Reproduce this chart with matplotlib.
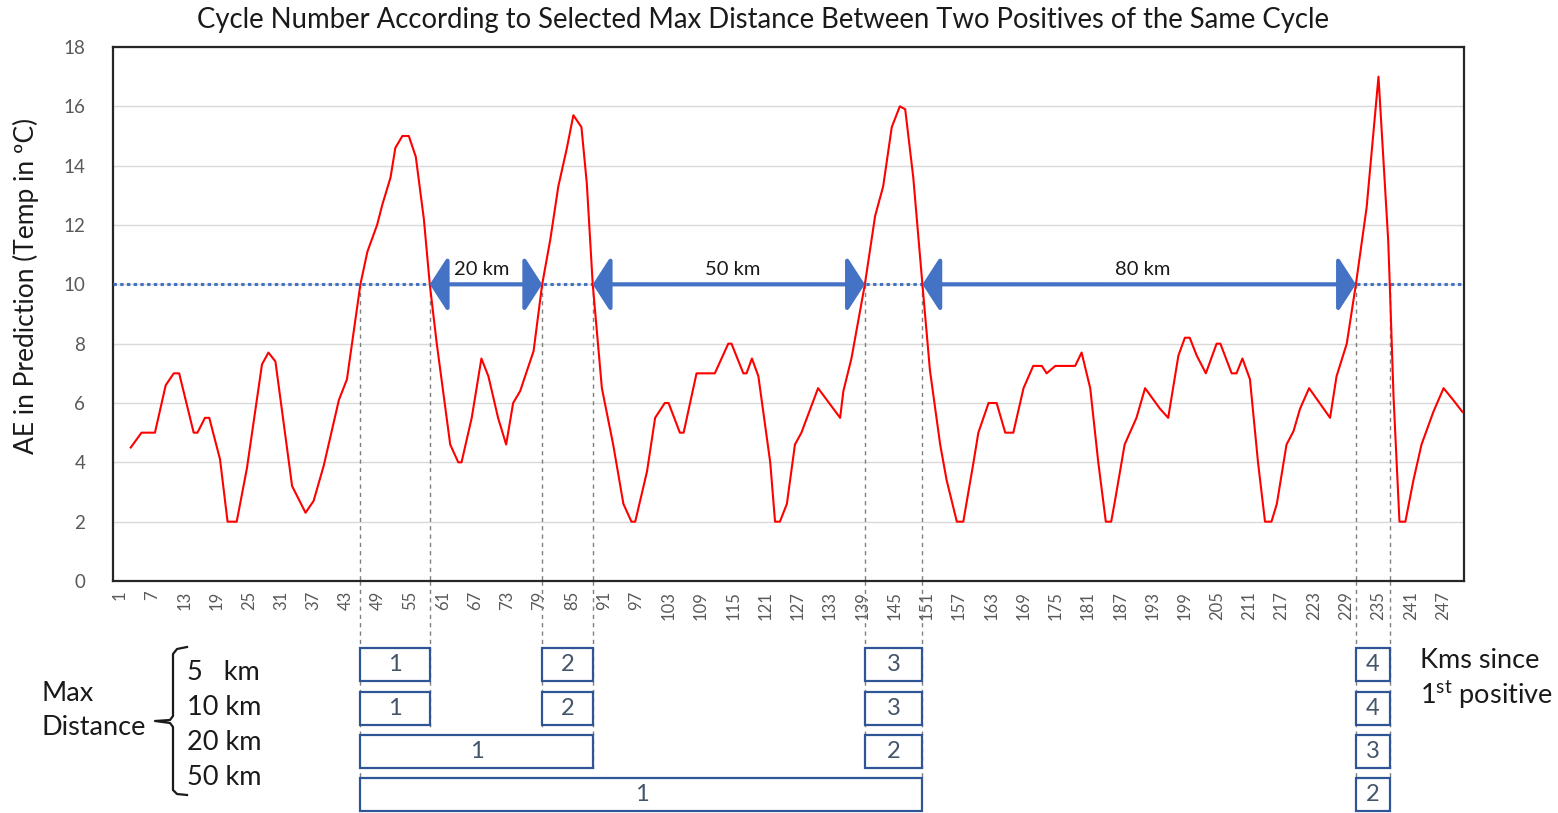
import matplotlib.pyplot as plt
from matplotlib.patches import Rectangle
from matplotlib.transforms import blended_transform_factory

plt.rcParams['font.family'] = ['Lato', 'DejaVu Sans']
plt.rcParams['mathtext.fontset'] = 'custom'
plt.rcParams['mathtext.rm'] = 'Lato'

# line vertices: km since start, AE value
km = [3, 5, 7.5, 9.5, 11, 12, 14.7, 15.4, 16.8, 17.6, 19.6, 21, 22.7, 24.6, 27.4, 28.6, 29.9,
      33, 35.5, 37, 38.9, 41.7, 43.2, 45.7, 47, 48.8, 49.8, 51.3, 52.2, 53.5, 54.7, 56, 57.5, 58.6,
      59.9, 62.4, 63.9, 64.5, 66.4, 68.2, 69.5, 71.3, 72.8, 74.1, 75.4, 77.9, 79.5, 81, 82.5,
      84.1, 85.3, 86.8, 87.8, 88.9, 90.6, 92.7, 94.6, 96.1, 96.8, 99, 100.5, 102.3, 103, 105.1,
      105.8, 108.2, 111.6, 114.1, 114.7, 116.9, 117.5, 118.5, 119.7, 121.9, 122.8, 123.7,
      125, 126.5, 127.7, 130.8, 134.9, 135.5, 137, 139.5, 141.4, 142.9, 144.5, 146, 147, 148.5,
      150.2, 151.6, 153.5, 154.7, 156.6, 157.8, 159.7, 160.6, 162.5, 164, 165.6, 167.1, 169,
      170.8, 172.4, 173.3, 174.9, 178.6, 179.8, 181.4, 182.9,
      184.3, 185.3, 186, 187.8, 190, 191.6, 194.4, 195.9, 197.8, 199, 199.9, 201.2, 202.9,
      204.9, 205.6, 207.7, 208.6, 209.7, 211.1, 212.6, 213.9, 215.1, 216.1, 217.9, 219.2,
      220.4, 222.1, 226, 227.2, 229.1, 230.8, 232.8, 235, 236.8, 237.1, 237.8, 238.9, 240,
      241.5, 243, 245.2, 247.1, 248.9, 250.6]
ae = [4.5, 5.0, 5.0, 6.6, 7.0, 7.0, 5.0, 5.0, 5.5, 5.5, 4.1, 2.0, 2.0, 3.8, 7.3, 7.7, 7.4,
      3.2, 2.3, 2.7, 3.9, 6.1, 6.8, 10, 11.1, 12.0, 12.7, 13.6, 14.6, 15.0, 15.0, 14.3, 12.2, 10,
      8.0, 4.6, 4.0, 4.0, 5.5, 7.5, 6.9, 5.5, 4.6, 6.0, 6.4, 7.75, 10, 11.5, 13.3,
      14.6, 15.7, 15.3, 13.4, 10, 6.5, 4.6, 2.6, 2.0, 2.0, 3.7, 5.5, 6.0, 6.0, 5.0,
      5.0, 7.0, 7.0, 8.0, 8.0, 7.0, 7.0, 7.5, 6.9, 4.0, 2.0, 2.0,
      2.6, 4.6, 5.0, 6.5, 5.5, 6.4, 7.5, 10, 12.3, 13.3, 15.3, 16.0, 15.9, 13.6,
      10, 7.1, 4.6, 3.4, 2.0, 2.0, 4.0, 5.0, 6.0, 6.0, 5.0, 5.0, 6.5,
      7.25, 7.25, 7.0, 7.25, 7.25, 7.7, 6.5, 4.0,
      2.0, 2.0, 2.7, 4.6, 5.5, 6.5, 5.8, 5.5, 7.6, 8.2, 8.2, 7.6, 7.0,
      8.0, 8.0, 7.0, 7.0, 7.5, 6.8, 4.0, 2.0, 2.0, 2.6, 4.6, 5.05,
      5.8, 6.5, 5.5, 6.9, 8.0, 10, 12.6, 17.0, 11.5, 10, 6.2, 2.0, 2.0,
      3.4, 4.6, 5.7, 6.5, 6.1, 5.7]

threshold = 10
crossings = [45.7, 58.6, 79.5, 88.9, 139.5, 150.2, 230.8, 237.1]
gaps = [(58.6, 79.5, '20 km', 68.2), (88.9, 139.5, '50 km', 115.0), (150.2, 230.8, '80 km', 191.2)]
tick_km = list(range(1, 250, 6))

row_labels = ['5   km', '10 km', '20 km', '50 km']
cycles_5 = [(45.7, 58.6, 1), (79.5, 88.9, 2), (139.5, 150.2, 3), (230.8, 237.1, 4)]
cycles_10 = [(45.7, 58.6, 1), (79.5, 88.9, 2), (139.5, 150.2, 3), (230.8, 237.1, 4)]
cycles_20 = [(45.7, 88.9, 1), (139.5, 150.2, 2), (230.8, 237.1, 3)]
cycles_50 = [(45.7, 150.2, 1), (230.8, 237.1, 2)]
rows = [cycles_5, cycles_10, cycles_20, cycles_50]

W, H = 1558, 813
def fy(py):
    return 1 - py / H
def fx(px):
    return px / W

txt = '#1a1a1a'
fig = plt.figure(figsize=(W / 100, H / 100), dpi=100)
ax = fig.add_axes([fx(113), fy(581), fx(1464) - fx(113), fy(47) - fy(581)])

ax.plot(km, ae, color='#FF0000', lw=1.5, zorder=4)
ax.axhline(threshold, color='#4472C4', lw=2.2, ls=(0, (1.1, 1.1)), zorder=3)

for x0, x1, lab, xm in gaps:
    ax.annotate('', xy=(x1, threshold), xytext=(x0, threshold),
                arrowprops=dict(arrowstyle='<|-|>,head_length=0.55,head_width=0.85',
                                mutation_scale=20, lw=3, color='#4472C4',
                                shrinkA=0, shrinkB=0), zorder=5)
    ax.text(xm, threshold + 0.2, lab, ha='center', va='bottom', fontsize=14.5, color=txt)

ax.set_xlim(-0.3, 250.9)
ax.set_ylim(0, 18)
ax.set_yticks(range(0, 19, 2))
ax.set_xticks(tick_km)
ax.set_xticklabels([str(t) for t in tick_km], rotation=90)
ax.tick_params(axis='y', length=0, pad=20, labelsize=13.5, labelcolor='#595959')
ax.tick_params(axis='x', length=0, pad=7, labelsize=12, labelcolor='#595959')
ax.grid(axis='y', color='#D9D9D9', lw=1)
ax.set_axisbelow(True)
for s in ax.spines.values():
    s.set_color('#262626')
    s.set_linewidth(1.6)

ax.set_ylabel('AE in Prediction (Temp in ºC)', fontsize=19, color=txt)
ax.yaxis.set_label_coords(-0.055, 0.552)
fig.text(fx(763), fy(20), 'Cycle Number According to Selected Max Distance Between Two Positives of the Same Cycle',
         ha='center', va='center', fontsize=19.8, color=txt)

blend = blended_transform_factory(ax.transData, fig.transFigure)

# dashed guides from the crossings down to the cycle boxes
guide_bottom = [778, 728, 728, 770, 770, 778, 778, 778]
for x, pb in zip(crossings, guide_bottom):
    ax.plot([x, x], [threshold, 0], color='#7F7F7F', lw=1, ls=(0, (3, 3)), zorder=2)
    ax.plot([x, x], [fy(581), fy(pb)], transform=blend, color='#7F7F7F', lw=1,
            ls=(0, (3, 3)), clip_on=False)

row_top = [648, 692, 735, 778]
row_h = 33
for cyc, top in zip(rows, row_top):
    for x0, x1, n in cyc:
        ax.add_patch(Rectangle((x0, fy(top + row_h)), x1 - x0, row_h / H, transform=blend,
                               fill=True, facecolor='white', edgecolor='#2F5597', lw=1.6,
                               clip_on=False, zorder=6))
        fig.text((x0 + x1) / 2, fy(top + row_h / 2), str(n), transform=blend, ha='center',
                 va='center', fontsize=17, color='#44546A', zorder=7)

label_y = [672, 707, 742, 777]
for lab, py in zip(row_labels, label_y):
    fig.text(fx(187), fy(py), lab, ha='left', va='center', fontsize=19.5, color=txt)

fig.text(fx(42), fy(693), 'Max', ha='left', va='center', fontsize=19.5, color=txt)
fig.text(fx(42), fy(727), 'Distance', ha='left', va='center', fontsize=19.5, color=txt)

# curly brace
bx = [187, 177, 173, 173, 170, 155, 170, 173, 173, 177, 187]
by = [647, 649, 654, 716, 720, 721, 723, 727, 790, 794, 795]
fig.add_artist(plt.Line2D([fx(v) for v in bx], [fy(v) for v in by], color=txt, lw=1.6))

fig.text(fx(1420), fy(660), 'Kms since', ha='left', va='center', fontsize=19.5, color=txt)
fig.text(fx(1420), fy(695), r'1$^{\mathrm{st}}$ positive', ha='left', va='center', fontsize=19.5,
         color=txt)

fig.savefig('out.png', dpi=100)
